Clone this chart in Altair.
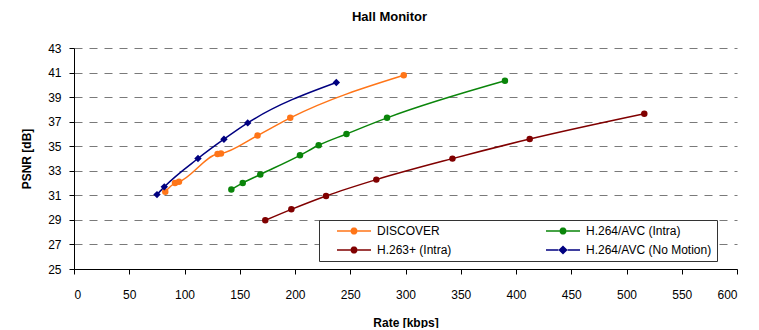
import math
import altair as alt
import pandas as pd

# ---- data ----
series_names = ["DISCOVER", "H.264/AVC (Intra)", "H.263+ (Intra)", "H.264/AVC (No Motion)"]
series_colors = ["#FF7518", "#0A850A", "#800000", "#000080"]

disc_rate = [82.6, 91.4, 95.0, 129.9, 133.0, 166.1, 195.7, 298.4]
disc_psnr = [31.3, 32.0, 32.1, 34.36, 34.4, 35.87, 37.31, 40.78]

h264i_rate = [142.4, 152.7, 168.6, 204.5, 221.4, 246.6, 283.3, 390.0]
h264i_psnr = [31.47, 32.01, 32.7, 34.26, 35.08, 36.0, 37.31, 40.33]

h263_rate = [173.1, 196.7, 228.1, 273.6, 342.5, 412.4, 516.1]
h263_psnr = [28.97, 29.86, 30.95, 32.28, 33.99, 35.58, 37.64]

nm_rate = [75.1, 81.7, 112.2, 135.7, 157.2, 237.4]
nm_psnr = [31.06, 31.69, 34.0, 35.57, 36.9, 40.19]

x_ticks = list(range(0, 601, 50))
y_ticks = list(range(25, 44, 2))

rows = []
for name, col, xs, ys in [
    (series_names[0], series_colors[0], disc_rate, disc_psnr),
    (series_names[1], series_colors[1], h264i_rate, h264i_psnr),
    (series_names[2], series_colors[2], h263_rate, h263_psnr),
    (series_names[3], series_colors[3], nm_rate, nm_psnr),
]:
    for xv, yv in zip(xs, ys):
        rows.append({"series": name, "col": col, "rate": xv, "psnr": yv})
df = pd.DataFrame(rows)

FONT = "Liberation Sans"

xenc = alt.X("rate:Q", scale=alt.Scale(domain=[0, 600], nice=False),
             axis=alt.Axis(values=x_ticks, title="Rate [kbps]", grid=False, labelOverlap=False))
yenc = alt.Y("psnr:Q", scale=alt.Scale(domain=[25, 43], nice=False, zero=False),
             axis=alt.Axis(values=y_ticks, title="PSNR [dB]", grid=True, labelOverlap=False))

color_scale = alt.Scale(domain=series_names, range=series_colors)
ident = alt.Color("col:N", scale=None)

base = alt.Chart(df)

lines = base.mark_line(strokeWidth=1.5, interpolate="monotone").encode(
    x=xenc, y=yenc, color=ident, detail="series:N",
)

circles = base.transform_filter(
    alt.datum.series != series_names[3]
).mark_point(filled=True, shape="circle", size=42, opacity=1).encode(
    x=xenc, y=yenc, color=ident,
)

diamonds = base.transform_filter(
    alt.datum.series == series_names[3]
).mark_point(filled=True, shape="diamond", size=55, opacity=1).encode(
    x=xenc, y=yenc, color=ident,
)

# ---- legend glyphs (style only): line + marker as filled areas ----
# symbol unit = sqrt(SYM_SIZE)/2 px; glyph x=-1 is the symbol's left edge
SYM_SIZE = 144
U = math.sqrt(SYM_SIZE) / 2.0
LINE_PX = 34.0


def fmt(v):
    return f"{v:.3f}"


def glyph(marker, radius_px):
    cx = -1 + LINE_PX / 2 / U
    h = 0.75 / U
    rr = radius_px / U
    x0, x1 = -1, -1 + LINE_PX / U
    p = f"M{fmt(x0)},{fmt(-h)}H{fmt(cx - rr)}V{fmt(h)}H{fmt(x0)}Z"
    p += f"M{fmt(cx + rr)},{fmt(-h)}H{fmt(x1)}V{fmt(h)}H{fmt(cx + rr)}Z"
    if marker == "circle":
        pts = [(cx + rr * math.cos(2 * math.pi * k / 20), rr * math.sin(2 * math.pi * k / 20)) for k in range(20)]
    else:
        pts = [(cx, -rr), (cx + rr, 0), (cx, rr), (cx - rr, 0)]
    p += "M" + "L".join(f"{fmt(x)},{fmt(y)}" for x, y in pts) + "Z"
    return p


legend_shapes = [
    glyph("circle", 3.6),
    glyph("circle", 3.6),
    glyph("circle", 3.6),
    glyph("diamond", 4.6),
]

# trailing no-break spaces widen the last column so the frame keeps its right margin
label_expr = (
    "datum.label == '" + series_names[3] + "' ? datum.label + '\u00a0\u00a0\u00a0\u00a0\u00a0' : datum.label"
)

leg = alt.Legend(
    title=None, orient="none", legendX=245, legendY=172, columns=2, direction="horizontal",
    symbolSize=SYM_SIZE, symbolOpacity=1, symbolStrokeWidth=0, symbolOffset=13,
    labelFont=FONT, labelFontSize=12, labelColor="black", labelOffset=28,
    labelExpr=label_expr,
    columnPadding=81, rowPadding=7, padding=5,
    strokeColor="#333333", fillColor="white",
)

legend_layer = base.mark_point(filled=True, opacity=0).encode(
    x=xenc, y=yenc,
    color=alt.Color("series:N", scale=color_scale, legend=leg),
    shape=alt.Shape("series:N", scale=alt.Scale(domain=series_names, range=legend_shapes), legend=leg),
)

chart = alt.layer(lines, circles, diamonds, legend_layer).properties(
    width=663, height=221,
    padding={"left": 12, "top": 3, "right": 0, "bottom": 0},
    title=alt.TitleParams("Hall Monitor", font=FONT, fontSize=13, fontWeight="bold",
                          anchor="middle", dx=-16, offset=18, color="black"),
).configure_view(stroke=None).configure_axis(
    labelFont=FONT, labelFontSize=12, labelColor="black",
    titleFont=FONT, titleFontSize=12, titleFontWeight="bold", titleColor="black",
    domainColor="black", domainWidth=1, tickColor="black", tickSize=5,
    gridColor="#7a7a7a", gridDash=[8, 7], gridWidth=1.2,
).configure_axisX(labelPadding=15, titlePadding=17).configure_axisY(
    labelPadding=8, titlePadding=14
)

chart.save("out.html", embed_options={"renderer": "svg", "actions": False})
